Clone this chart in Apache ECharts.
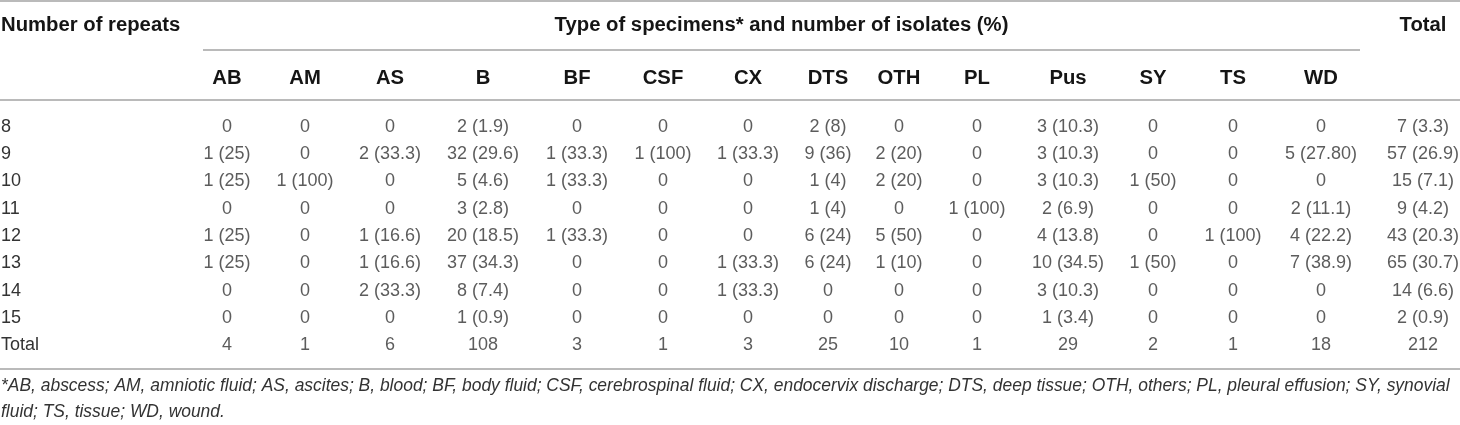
<!DOCTYPE html>
<html>
<head>
<meta charset="utf-8">
<script src="https://cdn.jsdelivr.net/npm/echarts@6/dist/echarts.min.js"></script>
<style>
  html, body { margin: 0; padding: 0; background: #fff; }
  #main { width: 1460px; height: 425px; }
</style>
</head>
<body>
<div id="main"></div>
<script>
// rows of the table (number of repeats)
const rowLabels = ['8', '9', '10', '11', '12', '13', '14', '15', 'Total']
// specimen type columns
const colNames = ['AB', 'AM', 'AS', 'B', 'BF', 'CSF', 'CX', 'DTS', 'OTH', 'PL', 'Pus', 'SY', 'TS', 'WD', 'Total']

const AB = ['0', '1 (25)', '1 (25)', '0', '1 (25)', '1 (25)', '0', '0', '4']
const AM = ['0', '0', '1 (100)', '0', '0', '0', '0', '0', '1']
const AS = ['0', '2 (33.3)', '0', '0', '1 (16.6)', '1 (16.6)', '2 (33.3)', '0', '6']
const B = ['2 (1.9)', '32 (29.6)', '5 (4.6)', '3 (2.8)', '20 (18.5)', '37 (34.3)', '8 (7.4)', '1 (0.9)', '108']
const BF = ['0', '1 (33.3)', '1 (33.3)', '0', '1 (33.3)', '0', '0', '0', '3']
const CSF = ['0', '1 (100)', '0', '0', '0', '0', '0', '0', '1']
const CX = ['0', '1 (33.3)', '0', '0', '0', '1 (33.3)', '1 (33.3)', '0', '3']
const DTS = ['2 (8)', '9 (36)', '1 (4)', '1 (4)', '6 (24)', '6 (24)', '0', '0', '25']
const OTH = ['0', '2 (20)', '2 (20)', '0', '5 (50)', '1 (10)', '0', '0', '10']
const PL = ['0', '0', '0', '1 (100)', '0', '0', '0', '0', '1']
const Pus = ['3 (10.3)', '3 (10.3)', '3 (10.3)', '2 (6.9)', '4 (13.8)', '10 (34.5)', '3 (10.3)', '1 (3.4)', '29']
const SY = ['0', '0', '1 (50)', '0', '0', '1 (50)', '0', '0', '2']
const TS = ['0', '0', '0', '0', '1 (100)', '0', '0', '0', '1']
const WD = ['0', '5 (27.80)', '0', '2 (11.1)', '4 (22.2)', '7 (38.9)', '0', '0', '18']
const Total = ['7 (3.3)', '57 (26.9)', '15 (7.1)', '9 (4.2)', '43 (20.3)', '65 (30.7)', '14 (6.6)', '2 (0.9)', '212']

const columns = [AB, AM, AS, B, BF, CSF, CX, DTS, OTH, PL, Pus, SY, TS, WD, Total]

const footnote1 = '*AB, abscess; AM, amniotic fluid; AS, ascites; B, blood; BF, body fluid; CSF, cerebrospinal fluid; CX, endocervix discharge; DTS, deep tissue; OTH, others; PL, pleural effusion; SY, synovial'
const footnote2 = 'fluid; TS, tissue; WD, wound.'

// layout: width of the label column, then each data column
const firstColWidth = 188
const colWidths = [78, 78, 92, 94, 94, 78, 92, 68, 74, 82, 100, 70, 90, 86, 118]

const colCenters = []
let acc = firstColWidth
colWidths.forEach(w => {
    colCenters.push(acc + w / 2)
    acc += w
})
const tableWidth = acc

const font = 'Liberation Sans, Arial, Helvetica, sans-serif'
const ruleColor = '#a3a3a3'
const textColor = '#333'
const headColor = '#151515'

const cells = []
columns.forEach((col, j) => {
    col.forEach((txt, i) => {
        cells.push([colCenters[j], rowLabels[i], txt])
    })
})

const chart = echarts.init(document.getElementById('main'))

const option = {
    animation: false,
    grid: {
        left: 0,
        width: tableWidth,
        top: 113,
        height: 246,
        outerBoundsMode: 'none',
        containLabel: false
    },
    xAxis: {
        type: 'value',
        position: 'top',
        min: 0,
        max: tableWidth,
        axisLine: { show: false },
        axisTick: { show: false },
        splitLine: { show: false },
        axisLabel: {
            customValues: colCenters.slice(0, 14),
            formatter: v => colNames[colCenters.indexOf(v)],
            fontFamily: font,
            fontWeight: 'bold',
            fontSize: 20.3,
            color: headColor,
            margin: 25
        }
    },
    yAxis: {
        type: 'category',
        data: rowLabels,
        inverse: true,
        axisLine: { show: false },
        axisTick: { show: false },
        splitLine: { show: false },
        axisLabel: {
            inside: true,
            margin: 1,
            fontFamily: font,
            fontSize: 18,
            color: textColor
        }
    },
    series: [{
        type: 'scatter',
        symbolSize: 0,
        clip: false,
        data: cells,
        label: {
            show: true,
            position: 'inside',
            formatter: p => p.data[2],
            fontFamily: font,
            fontSize: 18,
            color: textColor
        }
    }]
}

chart.setOption(option)

// header texts and rules placed from the x scale
const px = v => chart.convertToPixel({ xAxisIndex: 0 }, v)
const subLeft = px(colCenters[0]) - 24
const subRight = px(colCenters[13]) + 39
const headStyle = { fontFamily: font, fontWeight: 'bold', fontSize: 20.3, fill: headColor }
const noteStyle = { fontFamily: font, fontStyle: 'italic', fontSize: 17.45, fill: textColor, verticalAlign: 'middle' }

chart.setOption({
    graphic: [
        { type: 'line', shape: { x1: 0, y1: 1, x2: 1460, y2: 1 }, style: { stroke: ruleColor, lineWidth: 1.5 } },
        { type: 'line', shape: { x1: subLeft, y1: 50, x2: subRight, y2: 50 }, style: { stroke: ruleColor, lineWidth: 1.5 } },
        { type: 'line', shape: { x1: 0, y1: 100, x2: 1460, y2: 100 }, style: { stroke: ruleColor, lineWidth: 1.5 } },
        { type: 'line', shape: { x1: 0, y1: 369, x2: 1460, y2: 369 }, style: { stroke: ruleColor, lineWidth: 1.5 } },
        { type: 'text', x: 1, y: 25, style: Object.assign({ text: 'Number of repeats', align: 'left', verticalAlign: 'middle' }, headStyle) },
        { type: 'text', x: (subLeft + subRight) / 2, y: 25, style: Object.assign({ text: 'Type of specimens* and number of isolates (%)', align: 'center', verticalAlign: 'middle' }, headStyle) },
        { type: 'text', x: px(colCenters[14]), y: 25, style: Object.assign({ text: colNames[14], align: 'center', verticalAlign: 'middle' }, headStyle) },
        { type: 'text', x: 1, y: 386, style: Object.assign({ text: footnote1 }, noteStyle) },
        { type: 'text', x: 1, y: 412, style: Object.assign({ text: footnote2 }, noteStyle) }
    ]
})
</script>
</body>
</html>
